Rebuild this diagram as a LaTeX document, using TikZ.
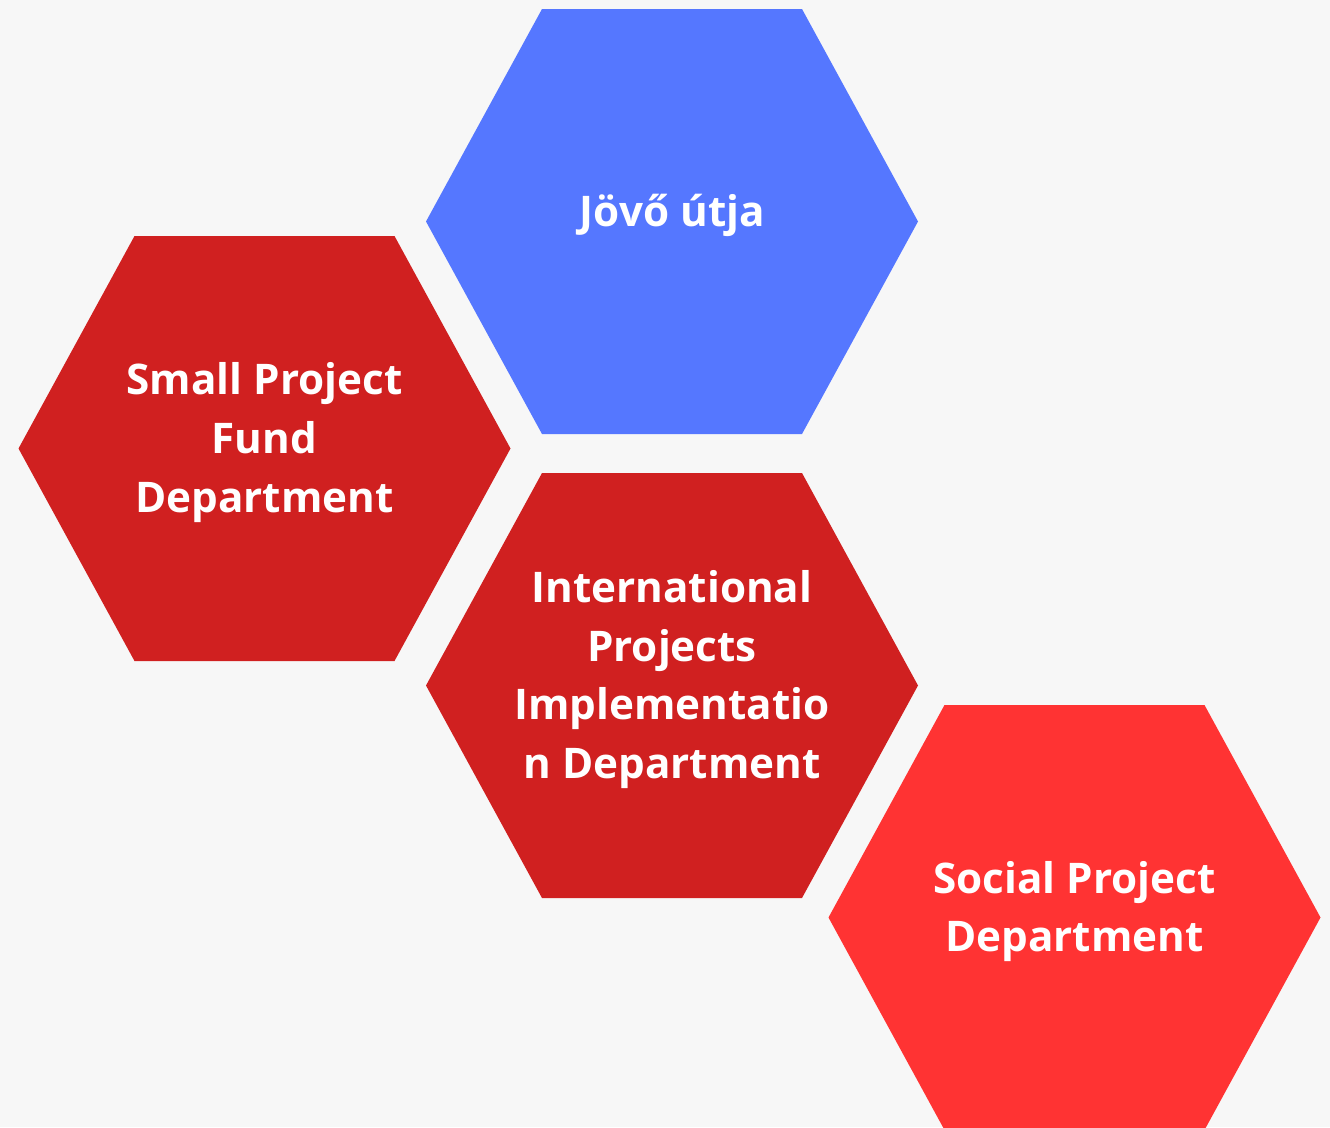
\documentclass[tikz,border=0pt]{standalone}
\usepackage{fontspec}
\setmainfont{Open Sans}
\usetikzlibrary{calc}
\definecolor{bgcol}{HTML}{F7F7F7}
\definecolor{hexblue}{HTML}{5577FF}
\definecolor{hexred}{HTML}{D02020}
\definecolor{hexlight}{HTML}{FF3333}

\begin{document}
\begin{tikzpicture}[x=0.01cm, y=-0.01cm]
  \tikzset{hextext/.style={text=white, align=center, font=\fontsize{12}{16.7}\selectfont\bfseries}}
  \fill[bgcol] (0,0) rectangle (1330,1127);
  \useasboundingbox (0,0) rectangle (1330,1127);

  \coordinate (jovo) at (672,221.5);
  \coordinate (small) at (264.5,448.5);
  \coordinate (intl) at (672,685.5);
  \coordinate (social) at (1074.5,917.5);

  \begin{scope}
    \clip (0,0) rectangle (1330,1127);
    \foreach \c/\col in {jovo/hexblue, small/hexred, intl/hexred, social/hexlight}
      \fill[\col] (\c) ++(-246,0) -- ++(116,-212.5) -- ++(260,0) -- ++(116,212.5)
        -- ++(-116,212.5) -- ++(-260,0) -- cycle;
  \end{scope}

  % labels sit a little above the hexagon centres
  \node[hextext] (jovotext) at ($(jovo)+(0,-6)$) {Jövő útja};
  \node[hextext] (smalltext) at ($(small)+(0,-6)$) {Small Project\\Fund\\Department};
  \node[hextext] (intltext) at ($(intl)+(0,-6)$) {International\\Projects\\Implementatio\\n Department};
  \node[hextext] (socialtext) at ($(social)+(0,-6)$) {Social Project\\Department};
\end{tikzpicture}
\end{document}
